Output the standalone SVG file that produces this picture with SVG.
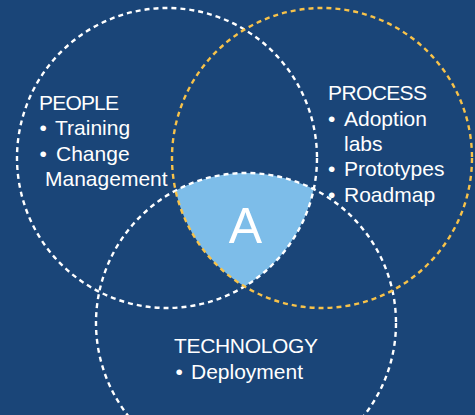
<svg xmlns="http://www.w3.org/2000/svg" width="475" height="415" viewBox="0 0 475 415">
<style>
.t{font-family:"Liberation Sans",Arial,sans-serif;font-size:21px;fill:#ffffff}
.ring{fill:none;stroke-width:2.4;stroke-dasharray:5 4}
.w{stroke:#ffffff}
.o{stroke:#f7c24a}
</style>
<rect x="0" y="0" width="475" height="415" fill="#1a4578"/>
<g id="intersection">
<path d="M175.6,190.6 A150,150 0 0 1 313.7,189.1 A150,150 0 0 1 244.5,286.4 A150,150 0 0 1 175.6,190.6 Z" fill="#7dbde9"/>
<text x="245.5" y="243" text-anchor="middle" style="font-family:'Liberation Sans',Arial,sans-serif;font-size:50px;fill:#ffffff">A</text>
</g>
<g id="technology">
<circle class="ring w" cx="246" cy="323" r="150"/>
<text class="t" x="174" y="353" textLength="144">TECHNOLOGY</text>
<text class="t" y="379"><tspan x="175.5">•</tspan><tspan x="191">Deployment</tspan></text>
</g>
<g id="people">
<circle class="ring w" cx="167" cy="158" r="150"/>
<text class="t" x="39" y="110" textLength="80">PEOPLE</text>
<text class="t" y="135"><tspan x="39.5">•</tspan><tspan x="55">Training</tspan></text>
<text class="t" y="161"><tspan x="39.5">•</tspan><tspan x="56">Change</tspan></text>
<text class="t" x="45" y="186">Management</text>
</g>
<g id="process">
<circle class="ring o" cx="322" cy="158" r="150"/>
<text class="t" x="328" y="100" textLength="99">PROCESS</text>
<text class="t" y="126"><tspan x="328">•</tspan><tspan x="344">Adoption</tspan></text>
<text class="t" x="344" y="151">labs</text>
<text class="t" y="176"><tspan x="328">•</tspan><tspan x="344">Prototypes</tspan></text>
<text class="t" y="202"><tspan x="328">•</tspan><tspan x="344">Roadmap</tspan></text>
</g>
</svg>
